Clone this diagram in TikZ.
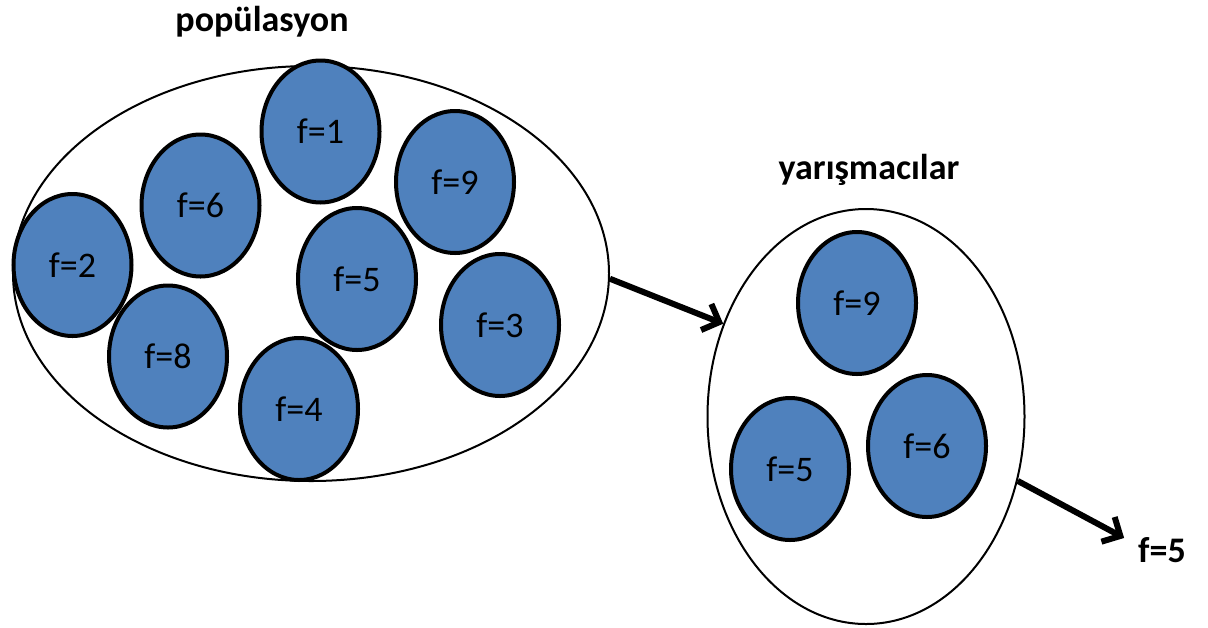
\documentclass[tikz,border=0pt]{standalone}
\usepackage{fontspec}
\setmainfont{Carlito}
\usetikzlibrary{shapes.geometric,arrows.meta}
\definecolor{indblue}{RGB}{79,129,189}
\tikzset{%
    member/.style={%
        ellipse, draw=black, line width=2pt, fill=indblue, inner sep=0pt,
        minimum width=59pt, minimum height=71pt, font=\fontsize{18}{22}\selectfont
    },
    group/.style={%
        ellipse, draw=black, line width=1pt, inner sep=0pt
    },
    heading/.style={%
        font=\fontsize{18}{22}\selectfont\bfseries
    },
    pick/.style={%
        line width=3pt, -{Straight Barb[length=7pt,width=14pt]}
    },
}

\begin{document}
\begin{tikzpicture}[x=0.5pt,y=-0.5pt]
      \useasboundingbox (0,0) rectangle (1208,627);

      % population and the tournament pool
      \node[group, minimum width=298pt, minimum height=207.5pt] (pop) at (311,273.5) {};
      \node[group, minimum width=158.5pt, minimum height=207.5pt] (yar) at (866,416.5) {};
      \node[heading] (poplbl) at (262,22) {popülasyon};
      \node[heading] (yarlbl) at (869,170) {yarışmacılar};

      \node[member] (p1) at (320.5,131.5) {f=1};
      \node[member] (p6) at (200.5,205.5) {f=6};
      \node[member] (p9) at (455,182) {f=9};
      \node[member] (p2) at (72.5,265) {f=2};
      \node[member] (p5) at (357,279) {f=5};
      \node[member] (p3) at (500,325) {f=3};
      \node[member] (p8) at (168,356.5) {f=8};
      \node[member] (p4) at (299,409) {f=4};

      \node[member] (y9) at (857,303) {f=9};
      \node[member] (y5) at (790,469) {f=5};
      \node[member] (y6) at (927,446) {f=6};

      \node[heading] (res) at (1162,550) {f=5};

      \draw[pick] (pop.-1) -- (yar.147);
      \draw[pick, shorten >=4pt] (yar.-23.6) -- (res.165);
\end{tikzpicture}
\end{document}
